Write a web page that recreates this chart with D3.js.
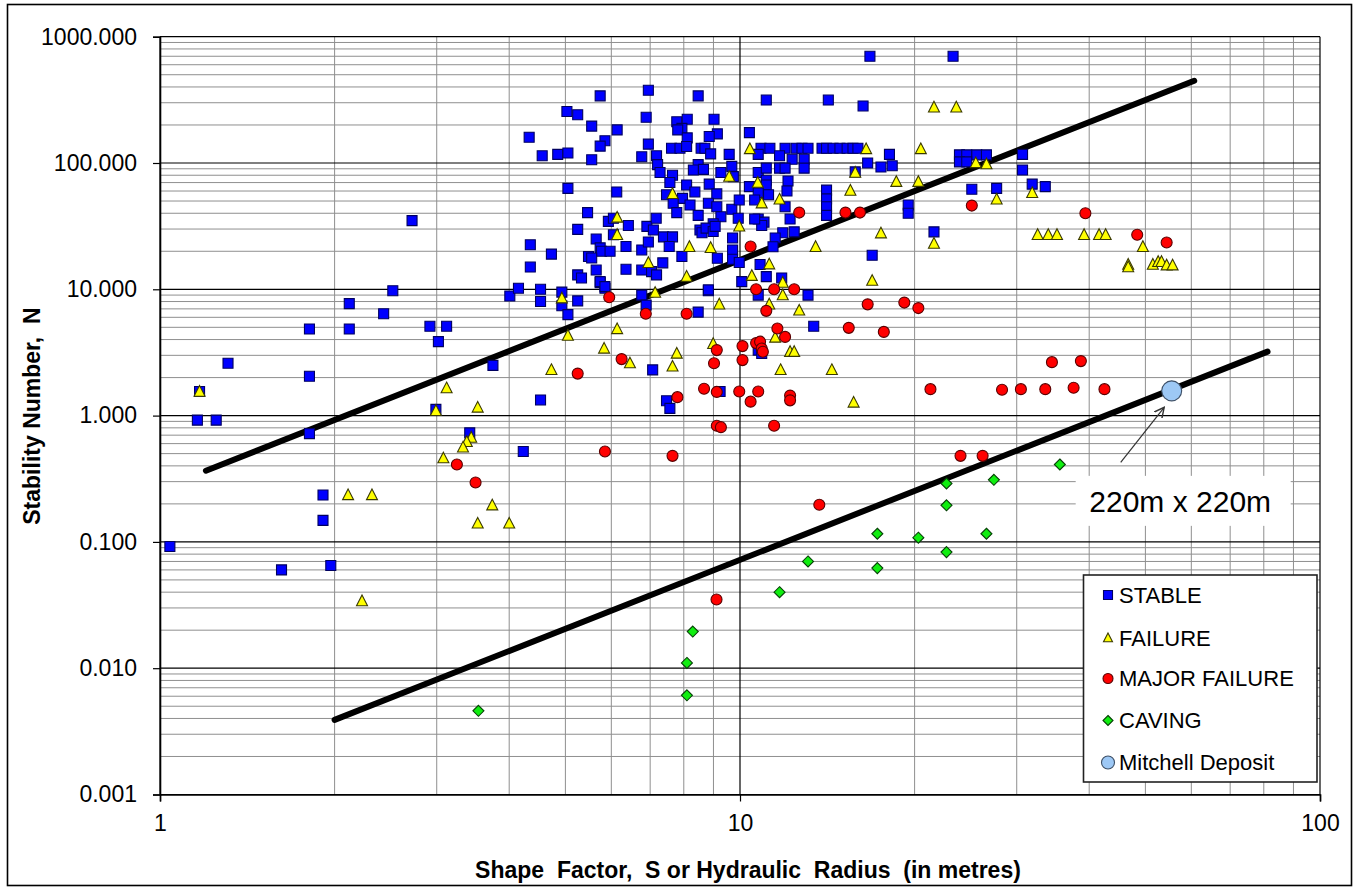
<!DOCTYPE html>
<html>
<head>
<meta charset="utf-8">
<script src="https://cdn.jsdelivr.net/npm/d3@7"></script>
<style>
  html, body { margin: 0; padding: 0; background: #fff; }
  svg { display: block; font-family: "Liberation Sans", Arial, Helvetica, sans-serif; }
</style>
</head>
<body>
<svg id="chart" width="1355" height="890"></svg>
<script>
// ---- Stability graph data: [shape factor S (m), stability number N] ----
const stable = [
  [1.04,0.092],[1.16,0.92],[1.25,0.92],[1.17,1.55],[1.31,2.6],[1.81,4.85],[1.81,2.05],[1.81,0.72],
  [1.91,0.235],[1.91,0.148],[1.62,0.06],[1.97,0.065],[2.12,7.7],[2.12,4.85],[2.43,6.4],[2.52,9.75],
  [2.72,35],[2.92,5.1],[3.12,5.1],[3.02,3.85],[2.99,1.12],[3.42,0.73],[3.75,2.5],[4.53,1.33],[4.23,0.52],
  [4.01,8.85],[4.15,10.2],[4.53,10],[4.53,8.0],[4.93,9.5],[4.93,7.4],[5.05,6.3],[5.25,8.1],[5.74,11.3],
  [5.85,10.2],[6.77,9.0],[6.89,7.5],[7.07,2.3],[7.47,1.31],[7.57,1.14],[8.47,6.6],[8.82,9.75],[9.24,1.55],
  [10.75,3.3],[13.1,9.0],[13.4,5.1],[10.9,3.1],
  [4.33,160],[4.56,114],[4.85,117],[5.05,120],[5.03,256],[5.25,241],[5.74,340],[5.55,196],[6.14,183],
  [5.85,150],[5.74,136],[5.55,106],[6.95,377],[6.89,230],[6.95,141],[6.77,112],[7.18,114],[7.21,97],
  [7.28,84],[8.47,340],[7.78,212],[8.11,222],[7.94,188],[7.81,183],[8.11,158],[9.02,222],[9.14,170],
  [8.85,162],[10.38,174],[7.62,131],[7.88,131],[8.09,135],[8.57,131],[8.7,131],[8.9,118],[9.58,117],
  [11.1,315],[14.2,315],
  [10.87,131],[11.26,131],[11.96,131],[12.5,131],[12.79,131],[13.1,131],[13.85,131],[14.1,131],
  [14.47,131],[14.87,131],[15.3,131],[15.66,131],[15.97,131],
  [10.75,117],[11.7,114],[12.3,107],[12.9,107],[12.9,91],[11.7,91],[11.96,91],[10.75,84],[11.1,91],
  [11.1,73],[11.1,67],[10.38,65],[10.75,58],[10.6,51],[11.2,56],[12.1,72],[12.05,60],[11.96,45],
  [12.2,36],[10.75,36],[11.0,34],[10.9,32],[10.6,36],[11.85,28],[12.4,28.5],[11.5,25.5],[11.4,21.7],
  [14.1,61],[14.1,52],[14.1,45],[14.1,38.5],[9.68,94],[9.74,78],[9.27,84],[8.47,97],[8.31,88],
  [8.65,89],[7.65,80],[7.57,70],[8.09,67],[8.85,68],[8.36,59],[7.47,56],[7.96,52.5],[7.67,48],
  [8.2,46.5],[7.78,40.5],[8.47,38.5],[9.12,57],[8.82,48],[9.12,45],[9.68,43],[9.97,51],[9.27,37.5],
  [8.99,33],[9.93,36.5],[6.13,59],[5.05,63],[5.46,40.5],[5.25,29.8],[5.93,34.5],[6.05,36.5],[6.42,32],
  [6.05,27],[5.65,25],[5.74,21.3],[5.77,20],[5.97,20],[5.48,18.2],[5.55,17.7],[6.36,21.8],[4.35,22.5],
  [4.73,19],[4.35,15],[5.65,14.2],[5.25,13],[5.33,12.3],[5.74,11.5],[5.85,10.5],[6.36,14.4],[6.77,20.5],
  [6.95,23.7],[6.91,31.5],[7.17,36.5],[7.09,29.5],[7.38,26],[7.65,26],[7.55,21.8],[6.77,14.2],[7.04,13.8],
  [7.18,13],[7.36,16.2],[7.94,18.2],[8.53,29.5],[8.6,28],[8.74,30.5],[8.99,28.7],[9.06,31.5],[9.14,17.6],
  [9.71,25.5],[9.71,20.5],[9.71,17.3],[9.97,16.3],[10.83,15.7],[11.1,12.6],[10.07,11.5],[11.8,12.3],
  [10.75,9.0],[8.82,9.9],
  [16.75,700],[23.3,700],[16.3,283],[16.6,100],[17.5,93],[18.1,117],[18.3,95],[15.8,85],[19.5,46.5],
  [19.5,40],[21.6,28.5],[16.9,18.6],[23.9,116],[24.6,116],[25.6,116],[26.6,116],[23.9,102],[24.6,102],
  [30.7,117],[30.7,88],[25.1,62],[27.7,63],[31.9,68],[33.6,65]
];

const failure = [
  [1.17,1.55],[2.11,0.235],[2.32,0.235],[2.23,0.034],[3.12,1.65],[2.99,1.09],[3.08,0.46],[3.53,1.16],
  [3.44,0.67],[3.38,0.62],[3.33,0.56],[3.74,0.195],[3.53,0.14],[4.0,0.14],[4.73,2.3],[5.05,4.3],
  [5.83,3.4],[6.14,4.85],[6.46,2.6],[7.65,2.45],[7.78,3.1],[9.21,7.6],[8.99,3.7],[12.65,6.8],[11.5,4.15],
  [12.2,3.2],[12.4,3.2],[11.75,2.3],[14.4,2.3],[7.14,9.4],[4.93,8.5],[11.23,7.6],[11.85,9.0],[11.85,11.3],
  [10.4,129],[9.58,78],[10.73,70],[7.65,57],[10.9,48],[11.7,51.5],[6.14,37],[6.14,27],[9.97,31.5],
  [8.18,21.7],[8.9,21.3],[6.95,16.2],[8.09,12.6],[10.48,12.8],[11.23,15.8],[13.5,21.7],[21.6,276],
  [23.6,276],[16.5,129],[20.5,129],[15.8,84],[18.6,71],[20.3,71],[15.5,60.5],[25.5,100],[26.6,98],
  [27.7,51.5],[31.9,58],[17.5,27.8],[21.6,23],[16.9,11.7],[32.6,27],[34,27],[35.2,27],[39.2,27],
  [41.6,27],[42.7,27],[49.5,21.7],[46.7,15.7],[46.7,15.0],[51.5,15.7],[52.6,16.5],[53.3,16.5],
  [54.4,15.5],[55.7,15.5],[15.7,1.27]
];

const majorFailure = [
  [3.25,0.41],[3.5,0.295],[5.25,2.15],[5.85,0.52],[6.25,2.8],[6.88,6.4],[5.95,8.65],[7.65,0.48],
  [7.8,1.4],[8.09,6.4],[8.67,1.63],[9.12,1.54],[9.02,2.6],[9.12,3.3],[9.12,0.83],[9.27,0.81],
  [10.1,3.55],[10.1,2.75],[9.97,1.55],[10.43,1.29],[10.75,1.55],[10.66,3.75],[10.83,3.85],[10.9,3.4],
  [10.95,3.2],[11.6,4.9],[11.96,4.2],[12.2,1.44],[12.2,1.32],[11.45,0.83],[15.4,4.95],[13.7,0.197],
  [10.66,10],[11.45,10],[12.4,10],[11.1,6.75],[12.65,40.5],[15.2,40.5],[16.1,40.5],[10.43,21.8],
  [16.6,7.6],[19.2,7.85],[20.3,7.1],[17.7,4.6],[34.5,2.65],[38.7,2.7],[21.3,1.62],[28.3,1.6],
  [30.5,1.62],[33.6,1.62],[37.6,1.66],[42.5,1.62],[24,0.48],[26.2,0.48],[25.1,46],[39.4,40],
  [48.4,27],[54.4,23.5],[9.11,0.035]
];

const caving = [
  [3.54,0.0046],[8.29,0.0195],[8.1,0.011],[8.1,0.0061],[11.7,0.04],[13.1,0.07],[17.25,0.062],
  [17.25,0.116],[20.3,0.108],[22.7,0.083],[22.7,0.195],[22.7,0.29],[27.4,0.31],[26.6,0.116],[35.6,0.41]
];

const mitchellDeposit = [[55.5,1.57]];

// transition zone boundaries
const upperBoundary = [[1.2,0.366],[60.7,448]];
const lowerBoundary = [[2.0,0.0039],[81.2,3.21]];

const xTicks = [1, 10, 100];
const xTickLabels = ["1", "10", "100"];
const yTicks = [0.001, 0.01, 0.1, 1, 10, 100, 1000];
const yTickLabels = ["0.001", "0.010", "0.100", "1.000", "10.000", "100.000", "1000.000"];

const calloutText = "220m x 220m";
const xTitle = "Shape  Factor,  S or Hydraulic  Radius  (in metres)";
const yTitle = "Stability Number,  N";

// ---- layout ----
const plot = { left: 160, right: 1320, top: 36.7, bottom: 794.5 };
const FONT = '"Liberation Sans", Arial, Helvetica, sans-serif';

const svg = d3.select("#chart");

// figure border
svg.append("rect")
  .attr("x", 7.5).attr("y", 4.5).attr("width", 1344).attr("height", 881)
  .attr("fill", "#fff").attr("stroke", "#000").attr("stroke-width", 1.6);

const x = d3.scaleLog().domain([xTicks[0], xTicks[xTicks.length - 1]]).range([plot.left, plot.right]);
const y = d3.scaleLog().domain([yTicks[0], yTicks[yTicks.length - 1]]).range([plot.bottom, plot.top]);

// minor grid values (2..9 within each decade)
function minors(ticks) {
  const out = [];
  for (let i = 0; i < ticks.length - 1; i++)
    for (let m = 2; m <= 9; m++) out.push(ticks[i] * m);
  return out;
}

const grid = svg.append("g");
grid.selectAll("line.hminor").data(minors(yTicks)).join("line")
  .attr("x1", plot.left).attr("x2", plot.right)
  .attr("y1", d => y(d)).attr("y2", d => y(d))
  .attr("stroke", "#8f8f8f").attr("stroke-width", 1);
grid.selectAll("line.vminor").data(minors(xTicks)).join("line")
  .attr("y1", plot.top).attr("y2", plot.bottom)
  .attr("x1", d => x(d)).attr("x2", d => x(d))
  .attr("stroke", "#8f8f8f").attr("stroke-width", 1);
grid.selectAll("line.hmajor").data(yTicks).join("line")
  .attr("x1", plot.left).attr("x2", plot.right)
  .attr("y1", d => y(d)).attr("y2", d => y(d))
  .attr("stroke", "#000").attr("stroke-width", 1.2);
grid.selectAll("line.vmajor").data(xTicks).join("line")
  .attr("y1", plot.top).attr("y2", plot.bottom)
  .attr("x1", d => x(d)).attr("x2", d => x(d))
  .attr("stroke", "#000").attr("stroke-width", 1.2);

// axes
const yAxis = d3.axisLeft(y).tickValues(yTicks)
  .tickFormat((d, i) => yTickLabels[i]).tickSize(7).tickPadding(16);
const gy = svg.append("g").attr("transform", `translate(${plot.left},0)`).call(yAxis);
gy.select(".domain").attr("stroke", "#000").attr("stroke-width", 1.6);
gy.selectAll(".tick line").attr("stroke", "#000").attr("stroke-width", 1.2);
gy.selectAll(".tick text").attr("font-family", FONT).attr("font-size", 23).attr("fill", "#000");

const xAxis = d3.axisBottom(x).tickValues(xTicks)
  .tickFormat((d, i) => xTickLabels[i]).tickSize(7).tickPadding(13);
const gx = svg.append("g").attr("transform", `translate(0,${plot.bottom})`).call(xAxis);
gx.select(".domain").attr("stroke", "#000").attr("stroke-width", 1.6);
gx.selectAll(".tick line").attr("stroke", "#000").attr("stroke-width", 1.2);
gx.selectAll(".tick text").attr("font-family", FONT).attr("font-size", 23).attr("fill", "#000");

// axis titles
svg.append("text")
  .attr("transform", `translate(40,${(plot.top + plot.bottom) / 2 + 0.5}) rotate(-90)`)
  .attr("text-anchor", "middle").attr("font-weight", "bold").attr("font-size", 23)
  .style("white-space", "pre").text(yTitle);
svg.append("text")
  .attr("x", 748).attr("y", 878)
  .attr("text-anchor", "middle").attr("font-weight", "bold").attr("font-size", 23)
  .style("white-space", "pre").text(xTitle);

// boundary lines
const line = d3.line().x(d => x(d[0])).y(d => y(d[1]));
[upperBoundary, lowerBoundary].forEach(b => {
  svg.append("path").attr("d", line(b))
    .attr("fill", "none").attr("stroke", "#000").attr("stroke-width", 6)
    .attr("stroke-linecap", "round");
});

// marker shapes
const shapes = {
  square: s => `M${-s / 2},${-s / 2}h${s}v${s}h${-s}Z`,
  triangle: s => `M0,${-s * 0.55}L${s / 2},${s * 0.42}L${-s / 2},${s * 0.42}Z`,
  diamond: s => `M0,${-s / 2}L${s / 2},0L0,${s / 2}L${-s / 2},0Z`,
  circle: s => `M${s / 2},0A${s / 2},${s / 2} 0 1,1 ${-s / 2},0A${s / 2},${s / 2} 0 1,1 ${s / 2},0Z`
};

const series = [
  { name: "STABLE", data: stable, shape: "square", size: 10, legendSize: 9, fill: "#0000ff", stroke: "#000060" },
  { name: "FAILURE", data: failure, shape: "triangle", size: 11, legendSize: 9, fill: "#ffff00", stroke: "#3a3a00" },
  { name: "MAJOR FAILURE", data: majorFailure, shape: "circle", size: 11, legendSize: 10, fill: "#ff0000", stroke: "#5a0000" },
  { name: "CAVING", data: caving, shape: "diamond", size: 11, legendSize: 10, fill: "#10ee10", stroke: "#064006" },
  { name: "Mitchell Deposit", data: mitchellDeposit, shape: "circle", size: 20, legendSize: 13, fill: "#9dc8f5", stroke: "#3d4f66" }
];

series.forEach(s => {
  svg.append("g").selectAll("path").data(s.data).join("path")
    .attr("transform", d => `translate(${x(d[0])},${y(d[1])})`)
    .attr("d", shapes[s.shape](s.size))
    .attr("fill", s.fill).attr("stroke", s.stroke).attr("stroke-width", 1.1);
});

// callout for the Mitchell deposit point
const mx = x(mitchellDeposit[0][0]), my = y(mitchellDeposit[0][1]);
svg.append("defs").append("marker")
  .attr("id", "arrowhead").attr("viewBox", "0 0 10 10")
  .attr("refX", 9).attr("refY", 5).attr("markerWidth", 11).attr("markerHeight", 11)
  .attr("markerUnits", "userSpaceOnUse").attr("orient", "auto")
  .append("path").attr("d", "M0,0.5L9,5L0,9.5").attr("fill", "none")
  .attr("stroke", "#333").attr("stroke-width", 1.3);
svg.append("line")
  .attr("x1", mx - 51).attr("y1", my + 71.5).attr("x2", mx - 7.5).attr("y2", my + 16.5)
  .attr("stroke", "#333").attr("stroke-width", 1.2).attr("marker-end", "url(#arrowhead)");
svg.append("rect")
  .attr("x", mx - 96).attr("y", my + 85).attr("width", 215).attr("height", 50)
  .attr("fill", "#fff");
svg.append("text")
  .attr("x", mx + 8.5).attr("y", my + 121.5).attr("text-anchor", "middle")
  .attr("font-size", 30).attr("fill", "#000").text(calloutText);

// legend
const lg = svg.append("g");
lg.append("rect")
  .attr("x", 1083.5).attr("y", 575).attr("width", 233.5).attr("height", 207)
  .attr("fill", "#fff").attr("stroke", "#222").attr("stroke-width", 1.6);
const rowY = [595, 638, 678.5, 720.5, 762.5];
series.forEach((s, i) => {
  lg.append("path")
    .attr("transform", `translate(1108,${rowY[i]})`)
    .attr("d", shapes[s.shape](s.legendSize))
    .attr("fill", s.fill).attr("stroke", s.stroke).attr("stroke-width", 1.1);
  lg.append("text")
    .attr("x", 1119).attr("y", rowY[i]).attr("dy", "0.36em")
    .attr("font-size", 22).attr("fill", "#000").text(s.name);
});
</script>
</body>
</html>
